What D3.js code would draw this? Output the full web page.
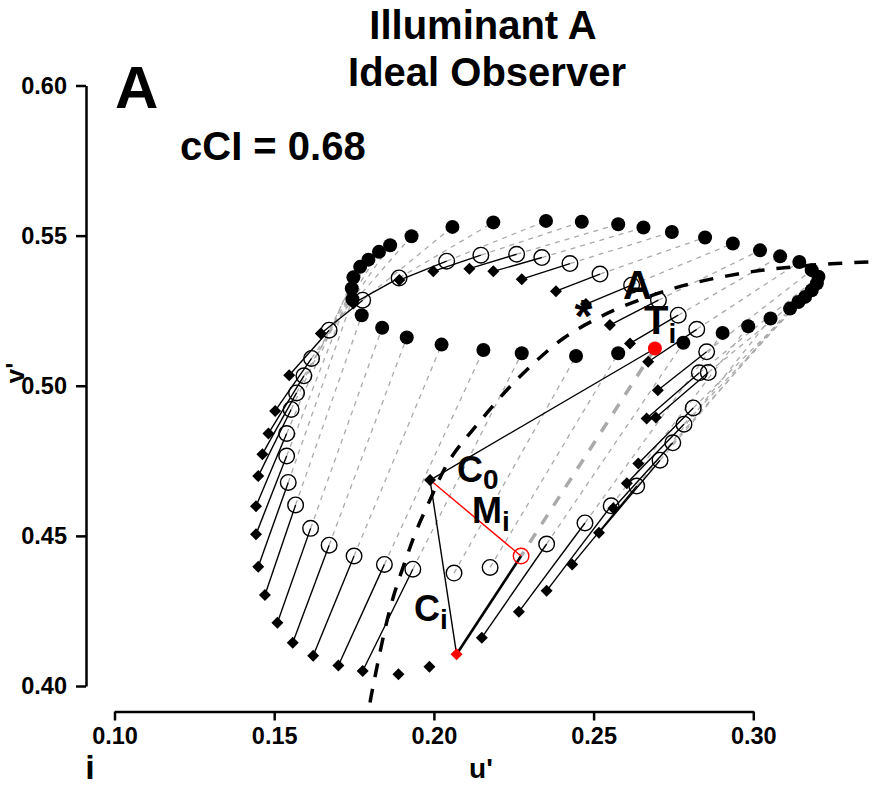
<!DOCTYPE html>
<html>
<head>
<meta charset="utf-8">
<script src="https://cdn.jsdelivr.net/npm/d3@7/dist/d3.min.js"></script>
<style>
  html, body { margin: 0; padding: 0; background: #fff; }
  svg text { font-family: "Liberation Sans", Arial, Helvetica, sans-serif; font-weight: bold; }
</style>
</head>
<body>
<svg id="chart" width="876" height="785"></svg>
<script>
// Surface chromaticities (u', v'), one entry per test surface.
// Filled circles: surfaces rendered under illuminant A.
const testU = [0.1743,0.1748,0.1769,0.1795,0.1828,0.1863,0.1930,0.2058,0.2186,0.2351,
               0.2463,0.2577,0.2656,0.2745,0.2849,0.2936,0.3021,0.3084,0.3144,0.3183,
               0.3204,0.3199,0.3183,0.3162,0.3141,0.3115,0.3054,0.2984,0.2904,0.2781,
               0.2692,0.2577,0.2445,0.2275,0.2155,0.2024,0.1915,0.1838,0.1774,0.1745];
const testV = [0.5324,0.5361,0.5396,0.5420,0.5446,0.5468,0.5498,0.5529,0.5544,0.5549,
               0.5546,0.5538,0.5527,0.5512,0.5494,0.5474,0.5451,0.5431,0.5412,0.5385,
               0.5363,0.5341,0.5318,0.5296,0.5279,0.5257,0.5224,0.5198,0.5176,0.5143,
               0.5124,0.5108,0.5099,0.5108,0.5119,0.5137,0.5161,0.5193,0.5235,0.5288];
// Filled diamonds: the same surfaces under the reference illuminant.
const refU = [0.1443,0.1443,0.1450,0.1463,0.1482,0.1503,0.1547,0.1646,0.1748,0.1892,
              0.1998,0.2111,0.2186,0.2275,0.2382,0.2476,0.2551,0.2614,0.2671,0.2701,
              0.2666,0.2695,0.2640,0.2604,0.2562,0.2517,0.2433,0.2353,0.2266,0.2150,
              0.2071,0.1986,0.1889,0.1777,0.1701,0.1622,0.1558,0.1510,0.1471,0.1450];
const refV = [0.4505,0.4599,0.4699,0.4772,0.4841,0.4916,0.5035,0.5174,0.5274,0.5352,
              0.5381,0.5390,0.5381,0.5355,0.5315,0.5272,0.5202,0.5141,0.5080,0.4985,
              0.4891,0.4894,0.4741,0.4675,0.4592,0.4510,0.4405,0.4317,0.4247,0.4161,
              0.4106,0.4064,0.4039,0.4050,0.4068,0.4101,0.4144,0.4211,0.4303,0.4397];
// Open circles: observer matches.
const matchU = [0.1539,0.1539,0.1553,0.1570,0.1593,0.1617,0.1672,0.1777,0.1891,0.2040,
                0.2147,0.2259,0.2338,0.2426,0.2520,0.2619,0.2703,0.2765,0.2823,0.2854,
                0.2831,0.2859,0.2812,0.2783,0.2748,0.2708,0.2635,0.2555,0.2473,0.2353,
                0.2273,0.2176,0.2063,0.1934,0.1845,0.1750,0.1672,0.1614,0.1567,0.1544];
const matchV = [0.4766,0.4841,0.4921,0.4976,0.5033,0.5091,0.5185,0.5285,0.5359,0.5415,
                0.5435,0.5438,0.5427,0.5407,0.5372,0.5335,0.5285,0.5235,0.5188,0.5113,
                0.5043,0.5044,0.4926,0.4872,0.4810,0.4752,0.4666,0.4600,0.4543,0.4473,
                0.4433,0.4395,0.4376,0.4389,0.4405,0.4433,0.4469,0.4525,0.4603,0.4678];
// Whether the reference-to-match segment is drawn for a surface.
const linked = [true,true,true,true,true,true,true,true,true,true,
                true,true,true,true,true,true,true,true,true,true,
                true,true,true,true,true,true,true,true,true,true,
                true,false,false,true,true,true,true,true,true,true];
// Surface used for the worked example (T_i, C_i, M_i).
const exampleIndex = 30;

// Neutral point C0 and the estimated illuminant marker.
const neutralU = 0.1988, neutralV = 0.4686;
const starU = 0.2468, starV = 0.5263;

// Blackbody locus.
const locusU = [0.1800,0.1805,0.1847,0.1878,0.1915,0.1946,0.1993,0.2040,0.2103,0.2165,
                0.2238,0.2322,0.2405,0.2499,0.2583,0.2713,0.2802,0.2911,0.3021,0.3124,
                0.3240,0.3381,0.3450];
const locusV = [0.3945,0.3976,0.4197,0.4320,0.4430,0.4525,0.4630,0.4747,0.4830,0.4908,
                0.5000,0.5085,0.5163,0.5218,0.5263,0.5313,0.5341,0.5365,0.5385,0.5396,
                0.5407,0.5413,0.5415];

const xTicks = [0.10, 0.15, 0.20, 0.25, 0.30];
const yTicks = [0.40, 0.45, 0.50, 0.55, 0.60];

const svg = d3.select("#chart");
const x = d3.scaleLinear().domain([0.10, 0.30]).range([114.5, 753.3]);
const y = d3.scaleLinear().domain([0.40, 0.60]).range([686, 85.5]);

const idx = d3.range(testU.length);
const T = i => [x(testU[i]), y(testV[i])];
const C = i => [x(refU[i]), y(refV[i])];
const M = i => [x(matchU[i]), y(matchV[i])];

// Axes
const yAxis = svg.append("g").attr("transform", "translate(86,0)")
  .call(d3.axisLeft(y).tickValues(yTicks).tickSize(10).tickSizeOuter(0).tickPadding(9)
        .tickFormat(d3.format(".2f")));
const xAxis = svg.append("g").attr("transform", "translate(0,711.5)")
  .call(d3.axisBottom(x).tickValues(xTicks).tickSize(9).tickSizeOuter(0).tickPadding(7)
        .tickFormat(d3.format(".2f")));
[yAxis, xAxis].forEach(g => {
  g.attr("font-size", null).attr("font-family", null);
  g.select(".domain").attr("stroke", "#000").attr("stroke-width", 2.5);
  g.selectAll(".tick line").attr("stroke", "#000").attr("stroke-width", 2.5);
  g.selectAll(".tick text").attr("fill", "#000").style("font-size", "23.5px");
});

const plot = svg.append("g");

// Test chromaticity to match: thin grey dashes
plot.append("g").selectAll("line").data(idx.filter(i => i !== exampleIndex)).join("line")
  .attr("x1", i => M(i)[0]).attr("y1", i => M(i)[1])
  .attr("x2", i => T(i)[0]).attr("y2", i => T(i)[1])
  .attr("stroke", "#aaaaaa").attr("stroke-width", 1.3).attr("stroke-dasharray", "5,5");

// Worked example T_i -> M_i: heavy grey dashes
plot.append("line")
  .attr("x1", T(exampleIndex)[0]).attr("y1", T(exampleIndex)[1])
  .attr("x2", M(exampleIndex)[0]).attr("y2", M(exampleIndex)[1])
  .attr("stroke", "#aaaaaa").attr("stroke-width", 3.5).attr("stroke-dasharray", "11,11");

// Blackbody locus
plot.append("path")
  .datum(d3.range(locusU.length))
  .attr("d", d3.line().x(i => x(locusU[i])).y(i => y(locusV[i])).curve(d3.curveBasis))
  .attr("fill", "none").attr("stroke", "#000").attr("stroke-width", 3.5)
  .attr("stroke-dasharray", "14,12");

// Reference -> match segments
plot.append("g").selectAll("line").data(idx.filter(i => linked[i])).join("line")
  .attr("x1", i => C(i)[0]).attr("y1", i => C(i)[1])
  .attr("x2", i => M(i)[0]).attr("y2", i => M(i)[1])
  .attr("stroke", "#000").attr("stroke-width", i => i === exampleIndex ? 2.6 : 1.4);

// Lines from the neutral point C0
const c0 = [x(neutralU), y(neutralV)];
plot.append("line").attr("x1", c0[0]).attr("y1", c0[1])
  .attr("x2", T(exampleIndex)[0]).attr("y2", T(exampleIndex)[1])
  .attr("stroke", "#000").attr("stroke-width", 1.4);
plot.append("line").attr("x1", c0[0]).attr("y1", c0[1])
  .attr("x2", C(exampleIndex)[0]).attr("y2", C(exampleIndex)[1])
  .attr("stroke", "#000").attr("stroke-width", 1.4);
plot.append("line").attr("x1", c0[0]).attr("y1", c0[1])
  .attr("x2", M(exampleIndex)[0]).attr("y2", M(exampleIndex)[1])
  .attr("stroke", "#ff0000").attr("stroke-width", 1.4);

// Markers
const diamond = d3.symbol().type(d3.symbolSquare).size(72)();
plot.append("g").selectAll("circle").data(idx).join("circle")
  .attr("cx", i => T(i)[0]).attr("cy", i => T(i)[1]).attr("r", 7)
  .attr("fill", i => i === exampleIndex ? "#ff0000" : "#000");
plot.append("g").selectAll("circle").data(idx).join("circle")
  .attr("cx", i => M(i)[0]).attr("cy", i => M(i)[1]).attr("r", 7.8)
  .attr("fill", "none").attr("stroke", i => i === exampleIndex ? "#ff0000" : "#000")
  .attr("stroke-width", 1.4);
plot.append("g").selectAll("path").data(idx).join("path")
  .attr("d", diamond)
  .attr("transform", i => `translate(${C(i)[0]},${C(i)[1]}) rotate(45)`)
  .attr("fill", i => i === exampleIndex ? "#ff0000" : "#000");
plot.append("path").attr("d", diamond)
  .attr("transform", `translate(${c0[0]},${c0[1]}) rotate(45)`).attr("fill", "#000");

// Estimated illuminant marker
plot.append("text").attr("x", x(starU)).attr("y", y(starV) + 25)
  .attr("text-anchor", "middle").style("font-size", "46px").text("*");

// Annotations
function label(px, py, main, sub, size, subSize, subShift) {
  const t = svg.append("text").attr("x", px).attr("y", py).style("font-size", size + "px");
  t.append("tspan").text(main);
  if (sub) t.append("tspan").attr("dy", subShift).style("font-size", subSize + "px").text(sub);
}
label(623, 299, "A", null, 40);
label(644, 334, "T", "i", 40, 28, 9);
label(457, 482, "C", "0", 36, 28, 7);
label(472, 523, "M", "i", 36, 28, 8);
label(414, 621, "C", "i", 36, 28, 8);

// Titles and panel text
svg.append("text").attr("x", 483).attr("y", 39).attr("text-anchor", "middle")
  .style("font-size", "40px").text("Illuminant A");
svg.append("text").attr("x", 487).attr("y", 86).attr("text-anchor", "middle")
  .style("font-size", "40px").text("Ideal Observer");
svg.append("text").attr("x", 115).attr("y", 108).style("font-size", "60px").text("A");
svg.append("text").attr("x", 180).attr("y", 160).style("font-size", "40px").text("cCI = 0.68");
svg.append("text").attr("x", 481).attr("y", 778).attr("text-anchor", "middle")
  .style("font-size", "28px").text("u'");
svg.append("text").attr("transform", "translate(24,373) rotate(-90)").attr("text-anchor", "middle")
  .style("font-size", "26px").text("v'");
svg.append("text").attr("x", 90).attr("y", 779).attr("text-anchor", "middle")
  .style("font-size", "34px").text("i");
</script>
</body>
</html>
